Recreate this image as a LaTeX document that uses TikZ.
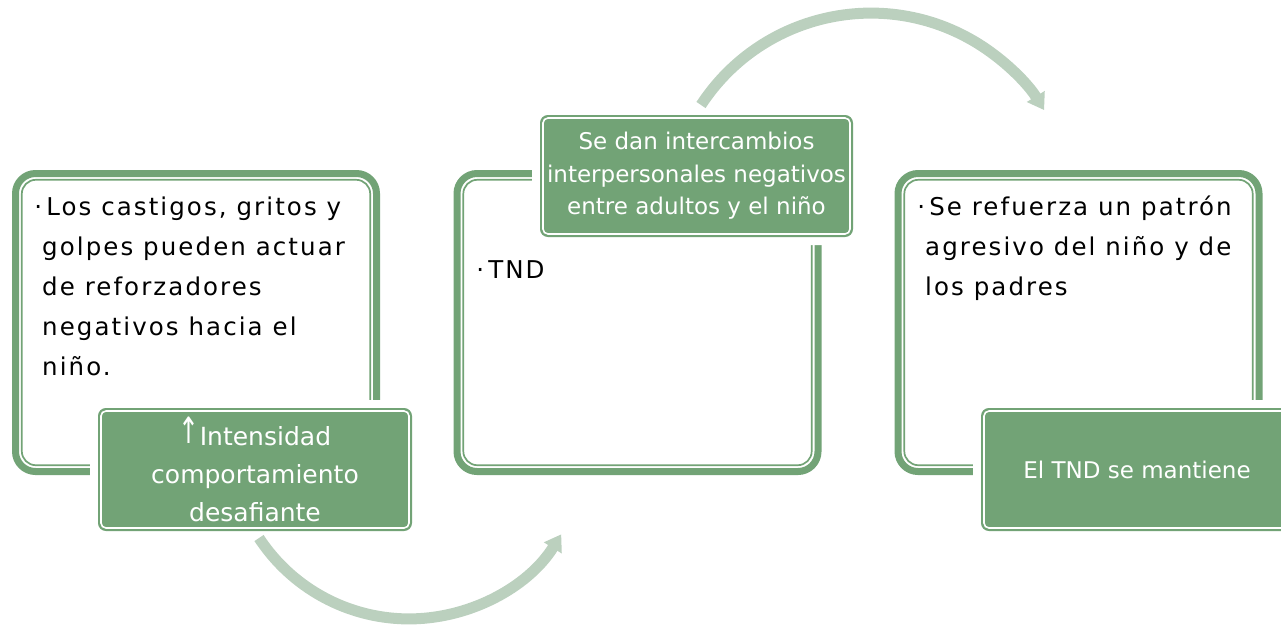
\documentclass[tikz,border=0pt]{standalone}
\usepackage{fontspec}
\setmainfont{DejaVu Sans}[LetterSpace=8.5]
\newfontfamily\labelfont{DejaVu Sans}
\usetikzlibrary{arrows.meta}
\definecolor{mygreen}{RGB}{114,163,118}
\definecolor{mylight}{RGB}{187,208,190}
\newcommand{\upmark}{\raisebox{2pt}{\scalebox{1}[1.45]{↑}}}
\tikzset{
  bigbox/.style={draw=mygreen, line width=7pt, rounded corners=20pt, fill=white,
    minimum width=361pt, minimum height=298pt, inner sep=0, outer sep=0},
  thinline/.style={draw=mygreen, line width=1.7pt, rounded corners=14pt},
  greenbox/.style={fill=mygreen, draw=mygreen, line width=2pt, rounded corners=7pt,
    text=white, align=center, inner sep=0, outer sep=0, minimum height=121pt,
    preaction={draw=white, fill=white, line width=18pt}},
  whiteline/.style={draw=white, line width=1.6pt, rounded corners=5pt},
  bodytext/.style={align=left, inner sep=0, anchor=base west,
    font=\fontsize{24.5}{40}\selectfont},
  cyclearrow/.style={draw=mylight, line width=11pt, -{Triangle[width=20pt,length=16pt]}}
}
\begin{document}
\begin{tikzpicture}[x=1pt,y=-1pt]
\useasboundingbox (0,0) rectangle (1281,625);

% outer frames
\node[bigbox] (box1) at (196,322.5) {};
\node[bigbox] (box2) at (637.5,322.5) {};
\node[bigbox] (box3) at (1078.5,322.5) {};
\foreach \b in {box1,box2,box3}
  \draw[thinline] ([shift={(6.3,6.3)}]\b.north west) rectangle ([shift={(-6.3,-6.3)}]\b.south east);

% green labels
\node[greenbox, minimum width=312pt, font=\labelfont\fontsize{25}{38}\selectfont] (lab1) at (255,469.5)
  {\upmark Intensidad\\comportamiento\\desafiante};
\node[greenbox, minimum width=311pt, minimum height=120pt, font=\labelfont\fontsize{23}{32.5}\selectfont] (lab2) at (696.5,176)
  {Se dan intercambios\\interpersonales negativos\\entre adultos y el niño};
\node[greenbox, minimum width=310pt, font=\labelfont\fontsize{23}{28}\selectfont] (lab3) at (1137,469.5)
  {El TND se mantiene};
\foreach \l in {lab1,lab2,lab3}
  \draw[whiteline] ([shift={(2,2)}]\l.north west) rectangle ([shift={(-2,-2)}]\l.south east);

% bullet texts (anchored at the last line)
\node[bodytext] (txt1) at (42,375) {\llap{·}\,Los castigos, gritos y\\golpes pueden actuar\\de reforzadores\\negativos hacia el\\niño.};
\node[bodytext] (txt2) at (484,278) {\llap{·}\,TND};
\node[bodytext] (txt3) at (925,295) {\llap{·}\,Se refuerza un patrón\\agresivo del niño y de\\los padres};

% curved arrows
\coordinate (lowstart) at (259,538);
\coordinate (highstart) at (701,105);
\draw[cyclearrow] (lowstart) arc[start angle=146.7, end angle=31.9, radius=179.4];
\draw[cyclearrow] (highstart) arc[start angle=213.2, end angle=328.5, radius=203.1];

\end{tikzpicture}
\end{document}
